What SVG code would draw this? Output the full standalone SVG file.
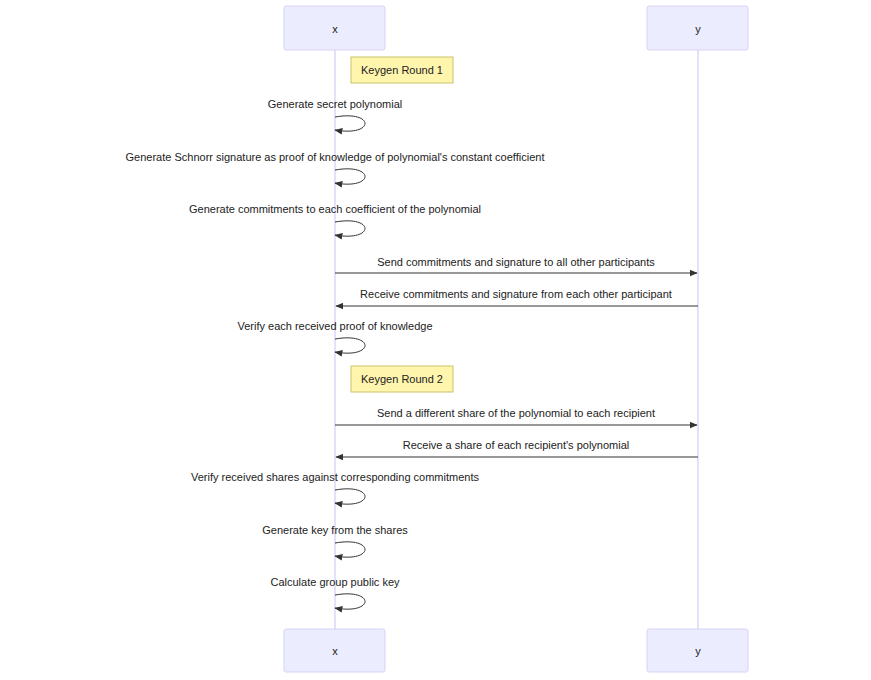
<svg xmlns="http://www.w3.org/2000/svg" width="871" height="680" viewBox="0 0 871 680">
<style>
.actor{fill:#ECECFF;stroke:#d8d2f6;stroke-width:1}
.life{stroke:#d8d0f4;stroke-width:1.3}
.note{fill:#fff5ad;stroke:#c9c36a;stroke-width:1}
.t{font-family:"Liberation Sans",Arial,sans-serif;font-size:11px;fill:#222;text-anchor:middle;dominant-baseline:central}
.msg{stroke:#333;stroke-width:1;fill:none}
</style>
<defs>
<marker id="ah" viewBox="0 0 12 10" refX="11" refY="5" markerWidth="8" markerHeight="7" markerUnits="userSpaceOnUse" orient="auto">
<path d="M0,0 L12,5 L0,10 z" fill="#333"/>
</marker>
</defs>
<rect width="871" height="680" fill="#ffffff"/>
<g id="lifelines">
<line class="life" x1="335" y1="50" x2="335" y2="629"/>
<line class="life" x1="698" y1="50" x2="698" y2="629"/>
</g>
<g id="actor-x-top"><rect class="actor" x="284" y="6" width="101" height="44" rx="2"/><text class="t" x="335" y="29">x</text></g>
<g id="actor-y-top"><rect class="actor" x="647" y="6" width="101" height="44" rx="2"/><text class="t" x="698" y="29">y</text></g>
<g id="actor-x-bottom"><rect class="actor" x="284" y="629" width="101" height="43" rx="2"/><text class="t" x="335" y="651">x</text></g>
<g id="actor-y-bottom"><rect class="actor" x="647" y="629" width="101" height="43" rx="2"/><text class="t" x="698" y="651">y</text></g>
<g id="note-1"><rect class="note" x="351" y="57" width="102" height="26"/><text class="t" x="402" y="70">Keygen Round 1</text></g>
<g id="note-2"><rect class="note" x="351" y="366" width="102" height="26"/><text class="t" x="402" y="379">Keygen Round 2</text></g>
<g id="connectors">
<path class="msg" marker-end="url(#ah)" d="M335,117 C375,110 375,137 335,130"/>
<path class="msg" marker-end="url(#ah)" d="M335,170 C375,163 375,190 335,183"/>
<path class="msg" marker-end="url(#ah)" d="M335,222 C375,215 375,242 335,235"/>
<line class="msg" marker-end="url(#ah)" x1="335" y1="273" x2="697" y2="273"/>
<line class="msg" marker-end="url(#ah)" x1="698" y1="306" x2="336" y2="306"/>
<path class="msg" marker-end="url(#ah)" d="M335,339 C375,332 375,359 335,352"/>
<line class="msg" marker-end="url(#ah)" x1="335" y1="425" x2="697" y2="425"/>
<line class="msg" marker-end="url(#ah)" x1="698" y1="457" x2="336" y2="457"/>
<path class="msg" marker-end="url(#ah)" d="M335,490 C375,483 375,510 335,503"/>
<path class="msg" marker-end="url(#ah)" d="M335,543 C375,536 375,563 335,556"/>
<path class="msg" marker-end="url(#ah)" d="M335,595 C375,588 375,615 335,608"/>
</g>
<g id="labels">
<text class="t" x="335" y="104">Generate secret polynomial</text>
<text class="t" x="335" y="157">Generate Schnorr signature as proof of knowledge of polynomial's constant coefficient</text>
<text class="t" x="335" y="209">Generate commitments to each coefficient of the polynomial</text>
<text class="t" x="516" y="262">Send commitments and signature to all other participants</text>
<text class="t" x="516" y="294">Receive commitments and signature from each other participant</text>
<text class="t" x="335" y="326">Verify each received proof of knowledge</text>
<text class="t" x="516" y="413">Send a different share of the polynomial to each recipient</text>
<text class="t" x="516" y="445">Receive a share of each recipient's polynomial</text>
<text class="t" x="335" y="477">Verify received shares against corresponding commitments</text>
<text class="t" x="335" y="530">Generate key from the shares</text>
<text class="t" x="335" y="582">Calculate group public key</text>
</g>
</svg>
